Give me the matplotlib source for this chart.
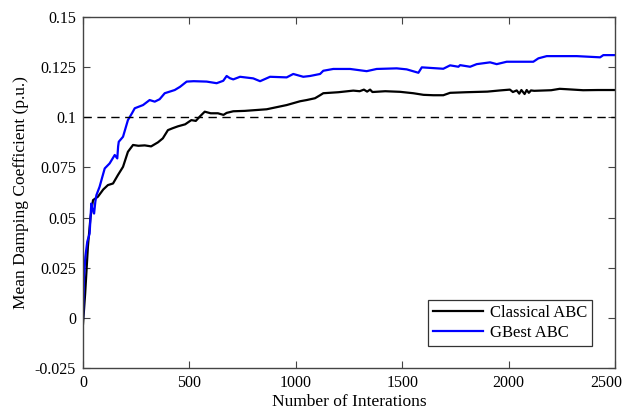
import matplotlib
matplotlib.use("Agg")
import matplotlib.pyplot as plt
import matplotlib.transforms as mtransforms
import numpy as np

plt.rcParams["font.family"] = ["Liberation Serif", "DejaVu Serif"]

# iterations / mean damping coefficient
it_classic = [0, 10, 23, 35, 47, 70, 95, 117, 141, 164, 188, 211, 235, 260, 290, 320, 352,
              375, 399, 420, 446, 480, 509, 530, 550, 572, 600, 634, 660, 675, 706, 760, 863,
              957, 1020, 1051, 1090, 1114, 1129, 1200, 1270, 1300, 1320, 1335, 1349, 1360,
              1420, 1490, 1552, 1600, 1646, 1693, 1725, 1800, 1900, 1960, 2006, 2020, 2038,
              2050, 2060, 2075, 2085, 2095, 2105, 2120, 2200, 2240, 2273, 2350, 2420, 2500]
classic = [-0.003, 0.012, 0.0355, 0.05, 0.0587, 0.0604, 0.064, 0.0662, 0.067, 0.0712, 0.0753,
           0.0828, 0.0862, 0.0858, 0.086, 0.0855, 0.0875,
           0.0895, 0.0936, 0.0945, 0.0955, 0.0965, 0.0986, 0.0982, 0.1005, 0.1028, 0.102,
           0.102, 0.1012, 0.1022, 0.103, 0.1032, 0.104,
           0.1061, 0.108, 0.1086, 0.1095, 0.111, 0.112, 0.1125, 0.1133, 0.113, 0.1138, 0.1128,
           0.1138, 0.1126, 0.113, 0.1127, 0.112, 0.1112, 0.111, 0.111, 0.1122, 0.1125, 0.1128,
           0.1134, 0.1138, 0.1126, 0.1134, 0.1118, 0.1136, 0.1116, 0.1136, 0.1122, 0.1134,
           0.1132, 0.1135, 0.1142, 0.114, 0.1135, 0.1136, 0.1136]

it_gbest = [0, 5, 11, 20, 31, 39, 45, 52, 58, 63, 78, 90, 102, 125, 149, 161, 165, 168, 188,
            211, 230, 243, 282, 313, 337, 360, 384, 431, 456, 487, 520, 581, 628, 659, 675,
            690, 706, 738, 800, 832, 879, 957, 988, 1035, 1067, 1114, 1129, 1176, 1255, 1333,
            1380, 1474, 1521, 1576, 1592, 1693, 1725, 1764, 1772, 1819, 1850, 1913, 1944,
            1991, 2116, 2140, 2179, 2320, 2430, 2445, 2500]
gbest = [0.0, 0.02, 0.0305, 0.038, 0.042, 0.057, 0.054, 0.052, 0.058, 0.0612, 0.0654, 0.07,
         0.0745, 0.077, 0.0812, 0.0795, 0.0855, 0.0878, 0.0903,
         0.0986, 0.102, 0.1045, 0.1061, 0.1086, 0.1078, 0.109, 0.112, 0.1136, 0.1152, 0.1178,
         0.118, 0.1178, 0.117, 0.1182, 0.1206,
         0.1195, 0.1189, 0.1202, 0.1194, 0.118, 0.1202, 0.1199, 0.1216, 0.1202, 0.1206, 0.1216,
         0.1232, 0.1241, 0.1241, 0.123,
         0.1241, 0.1244, 0.1239, 0.1222, 0.1249, 0.1242, 0.1259, 0.1252, 0.126, 0.1252,
         0.1265, 0.1274, 0.1265,
         0.1277, 0.1277, 0.1294, 0.1305, 0.1305, 0.1299, 0.131, 0.131]

fig = plt.figure(figsize=(6.27, 4.19), dpi=100)
ax = fig.add_axes([0.1324, 0.1217, 0.8485, 0.8377])

ax.plot(it_classic, classic, color="black", linewidth=1.6, label="Classical ABC")
ax.plot(it_gbest, gbest, color="#0000ff", linewidth=1.6, label="GBest ABC")
ax.axhline(0.1, color="black", linestyle=(0, (6, 4)), linewidth=1.0)

ax.set_xlim(0, 2500)
ax.set_ylim(-0.025, 0.15)
ax.set_xticks([0, 500, 1000, 1500, 2000, 2500])
ax.set_yticks([-0.025, 0, 0.025, 0.05, 0.075, 0.1, 0.125, 0.15])
ax.set_yticklabels(["-0.025", "0", "0.025", "0.05", "0.075", "0.1", "0.125", "0.15"])
ax.tick_params(direction="in", top=True, right=True, length=5, width=0.8,
               color="#444444", labelsize=11.5, pad=5)
for s in ax.spines.values():
    s.set_color("#444444")
    s.set_linewidth(1.0)

# keep the last x label inside the figure
last = ax.get_xticklabels()[-1]
last.set_transform(last.get_transform() +
                   mtransforms.ScaledTranslation(-6 / 72, 0, fig.dpi_scale_trans))

ax.set_xlabel("Number of Interations", fontsize=12.5, labelpad=2)
ax.set_ylabel("Mean Damping Coefficient (p.u.)", fontsize=12.5, labelpad=4)

leg = ax.legend(loc="lower right", bbox_to_anchor=(0.973, 0.04), fontsize=12,
                fancybox=False, edgecolor="#333333", framealpha=1, handlelength=3,
                borderpad=0.3, labelspacing=0.2, handletextpad=0.4)
leg.get_frame().set_linewidth(0.9)

fig.savefig("out.png", dpi=100)
